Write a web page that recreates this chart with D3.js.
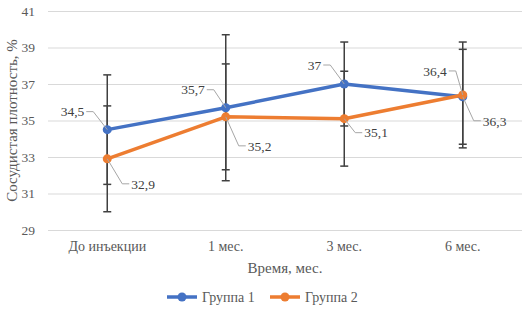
<!DOCTYPE html>
<html>
<head>
<meta charset="utf-8">
<script src="https://cdn.jsdelivr.net/npm/d3@7"></script>
<style>
  html, body { margin: 0; padding: 0; background: #fff; }
</style>
</head>
<body>
<svg id="chart" width="522" height="320"></svg>
<script>
// Chart data
const categories = ['До инъекции', '1 мес.', '3 мес.', '6 мес.'];
const group1 = [34.5, 35.7, 37, 36.3];
const group2 = [32.9, 35.2, 35.1, 36.4];
const group1Err = [3.0, 4.0, 2.3, 2.6];
const group2Err = [2.9, 2.9, 2.6, 2.9];
const yTicks = [29, 31, 33, 35, 37, 39, 41];
const seriesNames = ['Группа 1', 'Группа 2'];

// Label placement (offsets from the point)
const labelPos1 = [
    { dx: -19, dy: -18, anchor: 'end' },
    { dx: -17, dy: -18, anchor: 'end' },
    { dx: -19, dy: -19, anchor: 'end' },
    { dx: 16, dy: 24, anchor: 'start' }
];
const labelPos2 = [
    { dx: 20, dy: 25, anchor: 'start' },
    { dx: 18, dy: 29, anchor: 'start' },
    { dx: 16, dy: 14, anchor: 'start' },
    { dx: -12, dy: -24, anchor: 'end' }
];

const svg = d3.select('#chart');
const margin = { top: 11, right: 0, bottom: 90, left: 48 };
const width = 522 - margin.left - margin.right;
const height = 320 - margin.top - margin.bottom;
const serif = "Liberation Serif";

const g = svg.append('g')
    .attr('transform', `translate(${margin.left},${margin.top})`);

const x = d3.scaleBand()
    .domain(categories)
    .range([0, width]);

const y = d3.scaleLinear()
    .domain([29, 41])
    .range([height, 0]);

const cx = d => x(d) + x.bandwidth() / 2;

// Grid lines
g.append('g')
    .call(d3.axisLeft(y).tickValues(yTicks).tickSize(-width).tickFormat(''))
    .call(a => a.select('.domain').remove())
    .selectAll('line')
    .attr('stroke', '#d9d9d9')
    .attr('stroke-width', 1);

// Y tick labels
g.append('g')
    .call(d3.axisLeft(y).tickValues(yTicks).tickSize(0).tickPadding(13))
    .attr('font-family', serif)
    .attr('font-size', 13.5)
    .call(a => a.select('.domain').remove())
    .selectAll('text')
    .attr('fill', '#595959');

// X axis
g.append('g')
    .attr('transform', `translate(0,${height})`)
    .call(d3.axisBottom(x).tickSize(0).tickPadding(11))
    .attr('font-family', serif)
    .attr('font-size', 14)
    .call(a => a.select('.domain').attr('stroke', '#d9d9d9'))
    .selectAll('text')
    .attr('fill', '#595959');

// Error bars
function drawErrors(vals, errs) {
    const eg = g.append('g');
    vals.forEach((v, i) => {
        const px = cx(categories[i]);
        eg.append('line')
            .attr('x1', px).attr('x2', px)
            .attr('y1', y(v - errs[i])).attr('y2', y(v + errs[i]))
            .attr('stroke', '#404040').attr('stroke-width', 1.5);
        [v - errs[i], v + errs[i]].forEach(e => {
            eg.append('line')
                .attr('x1', px - 4).attr('x2', px + 4)
                .attr('y1', y(e)).attr('y2', y(e))
                .attr('stroke', '#404040').attr('stroke-width', 1.5);
        });
    });
}
drawErrors(group1, group1Err);
drawErrors(group2, group2Err);

const line = d3.line()
    .x((d, i) => cx(categories[i]))
    .y(d => y(d));

function drawSeries(vals, color) {
    g.append('path')
        .datum(vals)
        .attr('fill', 'none')
        .attr('stroke', color)
        .attr('stroke-width', 3.5)
        .attr('stroke-linejoin', 'round')
        .attr('d', line);
    g.selectAll(null)
        .data(vals)
        .enter().append('circle')
        .attr('cx', (d, i) => cx(categories[i]))
        .attr('cy', d => y(d))
        .attr('r', 4.5)
        .attr('fill', color);
}
drawSeries(group1, '#4472c4');
drawSeries(group2, '#ed7d31');

// Data labels with leader lines
const fmt = v => String(v).replace('.', ',');
function drawLabels(vals, pos) {
    vals.forEach((v, i) => {
        const px = cx(categories[i]);
        const py = y(v);
        const p = pos[i];
        const lx = px + p.dx;
        const ly = py + p.dy;
        const left = p.anchor === 'end';
        const elbow = left ? lx + 5 : lx - 5;
        g.append('polyline')
            .attr('points', `${px},${py} ${elbow},${ly} ${lx + (left ? -2 : 2)},${ly}`)
            .attr('fill', 'none')
            .attr('stroke', '#a6a6a6')
            .attr('stroke-width', 1);
        g.append('text')
            .attr('x', lx + (left ? -4 : 4))
            .attr('y', ly)
            .attr('dy', '0.35em')
            .attr('text-anchor', p.anchor)
            .attr('font-family', serif)
            .attr('font-size', 13.5)
            .attr('fill', '#404040')
            .text(fmt(v));
    });
}
drawLabels(group1, labelPos1);
drawLabels(group2, labelPos2);

// Axis titles
svg.append('text')
    .attr('x', margin.left + width / 2)
    .attr('y', 273)
    .attr('text-anchor', 'middle')
    .attr('font-family', serif)
    .attr('font-size', 15)
    .attr('fill', '#595959')
    .text('Время, мес.');

svg.append('text')
    .attr('transform', `translate(17,${margin.top + height / 2}) rotate(-90)`)
    .attr('text-anchor', 'middle')
    .attr('font-family', serif)
    .attr('font-size', 15)
    .attr('fill', '#595959')
    .text('Сосудистая плотность, %');

// Legend
const colors = ['#4472c4', '#ed7d31'];
const legendX = [167, 270];
seriesNames.forEach((name, i) => {
    const lg = svg.append('g').attr('transform', `translate(${legendX[i]},297)`);
    lg.append('line')
        .attr('x1', 0).attr('x2', 30)
        .attr('stroke', colors[i]).attr('stroke-width', 3.5);
    lg.append('circle')
        .attr('cx', 15).attr('r', 4.5).attr('fill', colors[i]);
    lg.append('text')
        .attr('x', 35).attr('dy', '0.35em')
        .attr('font-family', serif)
        .attr('font-size', 14)
        .attr('fill', '#595959')
        .text(name);
});
</script>
</body>
</html>
